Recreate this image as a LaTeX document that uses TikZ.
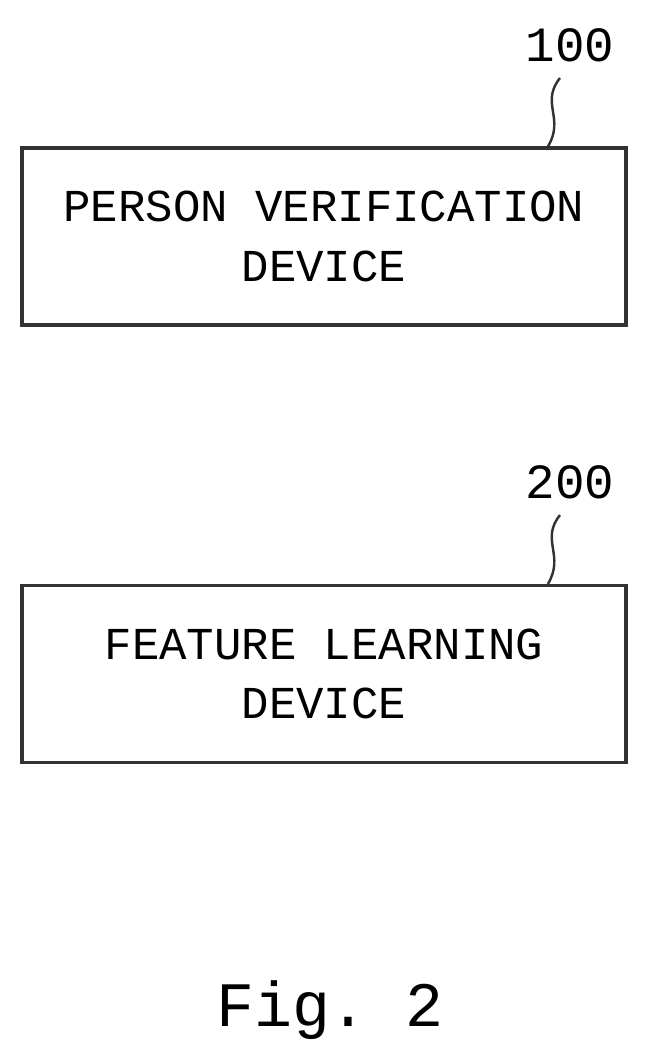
\documentclass[tikz,border=0pt]{standalone}
\usepackage{fontspec}
\setmonofont{Liberation Mono}
\usetikzlibrary{positioning}
\tikzset{%
  % box and label styles
  devbox/.style = {rectangle, draw=black!80, line width=0.9pt,
                   minimum width=6.04cm, minimum height=1.77cm,
                   align=center, font=\ttfamily\fontsize{13}{17}\selectfont},
  reflabel/.style = {font=\ttfamily\fontsize{14}{17}\selectfont},
  leader/.style = {draw=black!80, line width=0.7pt},
}
\begin{document}
\begin{tikzpicture}
  \useasboundingbox (0,0) rectangle (6.47,10.58);
  % devices
  \node (verif) [devbox] at (3.24,8.215) {PERSON VERIFICATION\\DEVICE};
  \node (learn) [devbox] at (3.24,3.84)  {FEATURE LEARNING\\DEVICE};
  % reference numerals
  \node (n100) [reflabel] at (5.70,10.13) {100};
  \node (n200) [reflabel] at (5.70,5.76)  {200};
  \draw[leader] (5.60,9.80) .. controls (5.40,9.55) and (5.65,9.40) .. (verif.north -| 5.48,0);
  \draw[leader] (5.60,5.43) .. controls (5.40,5.18) and (5.65,5.03) .. (learn.north -| 5.48,0);
  % caption
  \node (fig) [font=\ttfamily\fontsize{18}{20}\selectfont] at (3.30,0.48) {Fig. 2};
\end{tikzpicture}
\end{document}
